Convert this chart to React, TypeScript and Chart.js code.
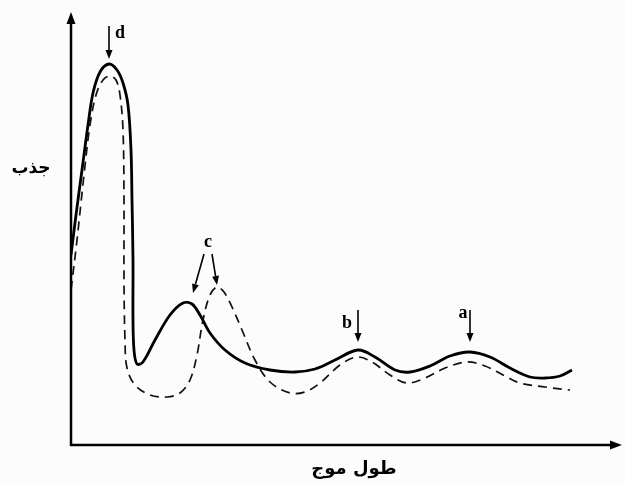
import React, { useEffect, useRef } from "react";
import { Chart, registerables } from "chart.js";

Chart.register(...registerables);

// Wavelength (relative units) and absorbance (relative units)
const solidX = [0, 5, 11, 17, 22, 29, 38, 46, 52, 57, 60, 61, 62, 62, 63, 66, 72, 84, 99, 112, 121, 129, 139, 154, 174, 199, 224, 244, 264, 287, 304, 324, 339, 359, 379, 399, 419, 439, 459, 474, 489, 501];
const solidY = [190, 230, 275, 320, 352, 373, 381, 375, 362, 340, 295, 245, 185, 125, 95, 81, 83, 105, 130, 142, 141, 130, 112, 95, 82, 75, 73, 76, 85, 95, 88, 75, 73, 79, 89, 93, 88, 77, 68, 67, 69, 75];
const dashedX = [0, 6, 13, 19, 25, 32, 39, 45, 49, 52, 53, 53, 54, 56, 64, 79, 96, 109, 119, 126, 132, 139, 146, 153, 161, 171, 184, 199, 219, 234, 249, 269, 286, 301, 319, 336, 354, 374, 396, 414, 434, 449, 474, 499];
const dashedY = [155, 205, 270, 320, 350, 365, 369, 365, 350, 315, 245, 165, 105, 77, 60, 50, 48, 52, 65, 90, 125, 150, 158, 153, 138, 115, 85, 63, 52, 53, 62, 80, 88, 83, 70, 62, 67, 77, 83, 79, 69, 62, 58, 55];

const xMax = 551;
const yMax = 433;

// Annotation labels with arrows
const annLabels = ["d", "c", "b", "a"];
const annText: [number, number][] = [[49, 412], [137, 203], [276, 122], [392, 132]];
const annArrows: [number, number, number, number][][] = [
  [[38, 419, 38, 386]],
  [[133, 191, 122, 152], [141, 191, 146, 160]],
  [[287, 135, 287, 103]],
  [[399, 135, 399, 103]],
];
const yTitle = "جذب";
const xTitle = "طول موج";

function arrow(ctx: CanvasRenderingContext2D, x1: number, y1: number, x2: number, y2: number, head: number, w: number, lw: number) {
  const ang = Math.atan2(y2 - y1, x2 - x1);
  const bx = x2 - head * Math.cos(ang);
  const by = y2 - head * Math.sin(ang);
  ctx.lineWidth = lw;
  ctx.beginPath();
  ctx.moveTo(x1, y1);
  ctx.lineTo(bx, by);
  ctx.stroke();
  ctx.beginPath();
  ctx.moveTo(x2, y2);
  ctx.lineTo(bx + (w / 2) * Math.sin(ang), by - (w / 2) * Math.cos(ang));
  ctx.lineTo(bx - (w / 2) * Math.sin(ang), by + (w / 2) * Math.cos(ang));
  ctx.closePath();
  ctx.fill();
}

const decor = {
  id: "decor",
  beforeDraw(chart: any) {
    const ctx = chart.ctx;
    ctx.save();
    ctx.fillStyle = "#fcfcfc";
    ctx.fillRect(0, 0, chart.width, chart.height);
    ctx.restore();
  },
  afterDraw(chart: any) {
    const ctx = chart.ctx as CanvasRenderingContext2D;
    const xs = chart.scales.x;
    const ys = chart.scales.y;
    const ca = chart.chartArea;
    ctx.save();
    ctx.strokeStyle = "#000";
    ctx.fillStyle = "#000";
    arrow(ctx, ca.left, ca.bottom + 1, ca.left, ca.top, 12, 9, 2.5);
    arrow(ctx, ca.left - 1, ca.bottom, ca.right, ca.bottom, 12, 9, 2.5);
    ctx.font = "bold 18px 'Liberation Serif', serif";
    ctx.textAlign = "center";
    ctx.textBaseline = "middle";
    annLabels.forEach((lab, i) => {
      const [tx, ty] = annText[i];
      ctx.fillText(lab, xs.getPixelForValue(tx), ys.getPixelForValue(ty));
      annArrows[i].forEach(([a, b, c, d]) => {
        arrow(ctx, xs.getPixelForValue(a), ys.getPixelForValue(b), xs.getPixelForValue(c), ys.getPixelForValue(d), 9, 7, 1.6);
      });
    });
    ctx.font = "bold 17px 'DejaVu Sans', sans-serif";
    ctx.direction = "rtl";
    ctx.fillText(yTitle, 31, 169);
    ctx.font = "bold 18px 'DejaVu Sans', sans-serif";
    ctx.fillText(xTitle, 354, 469);
    ctx.restore();
  },
};

export default function App() {
  const ref = useRef<HTMLCanvasElement>(null);
  useEffect(() => {
    document.body.style.margin = "0";
    const chart = new Chart(ref.current!, {
      type: "scatter",
      data: {
        datasets: [
          {
            data: solidX.map((x, i) => ({ x, y: solidY[i] })),
            showLine: true,
            borderColor: "#000",
            borderWidth: 2.8,
            pointRadius: 0,
            tension: 0.35,
            fill: false,
          },
          {
            data: dashedX.map((x, i) => ({ x, y: dashedY[i] })),
            showLine: true,
            borderColor: "#111",
            borderWidth: 1.7,
            borderDash: [9, 6],
            pointRadius: 0,
            tension: 0.35,
            fill: false,
          },
        ],
      },
      options: {
        responsive: false,
        animation: false,
        layout: { padding: { left: 71, right: 3, top: 12, bottom: 40 } },
        plugins: { legend: { display: false }, tooltip: { enabled: false } },
        scales: {
          x: { type: "linear", min: 0, max: xMax, display: false },
          y: { type: "linear", min: 0, max: yMax, display: false },
        },
      },
      plugins: [decor],
    });
    return () => chart.destroy();
  }, []);
  return (
    <div style={{ position: "absolute", left: 0, top: 0, width: 625, height: 485 }}>
      <canvas ref={ref} width={625} height={485} />
    </div>
  );
}
